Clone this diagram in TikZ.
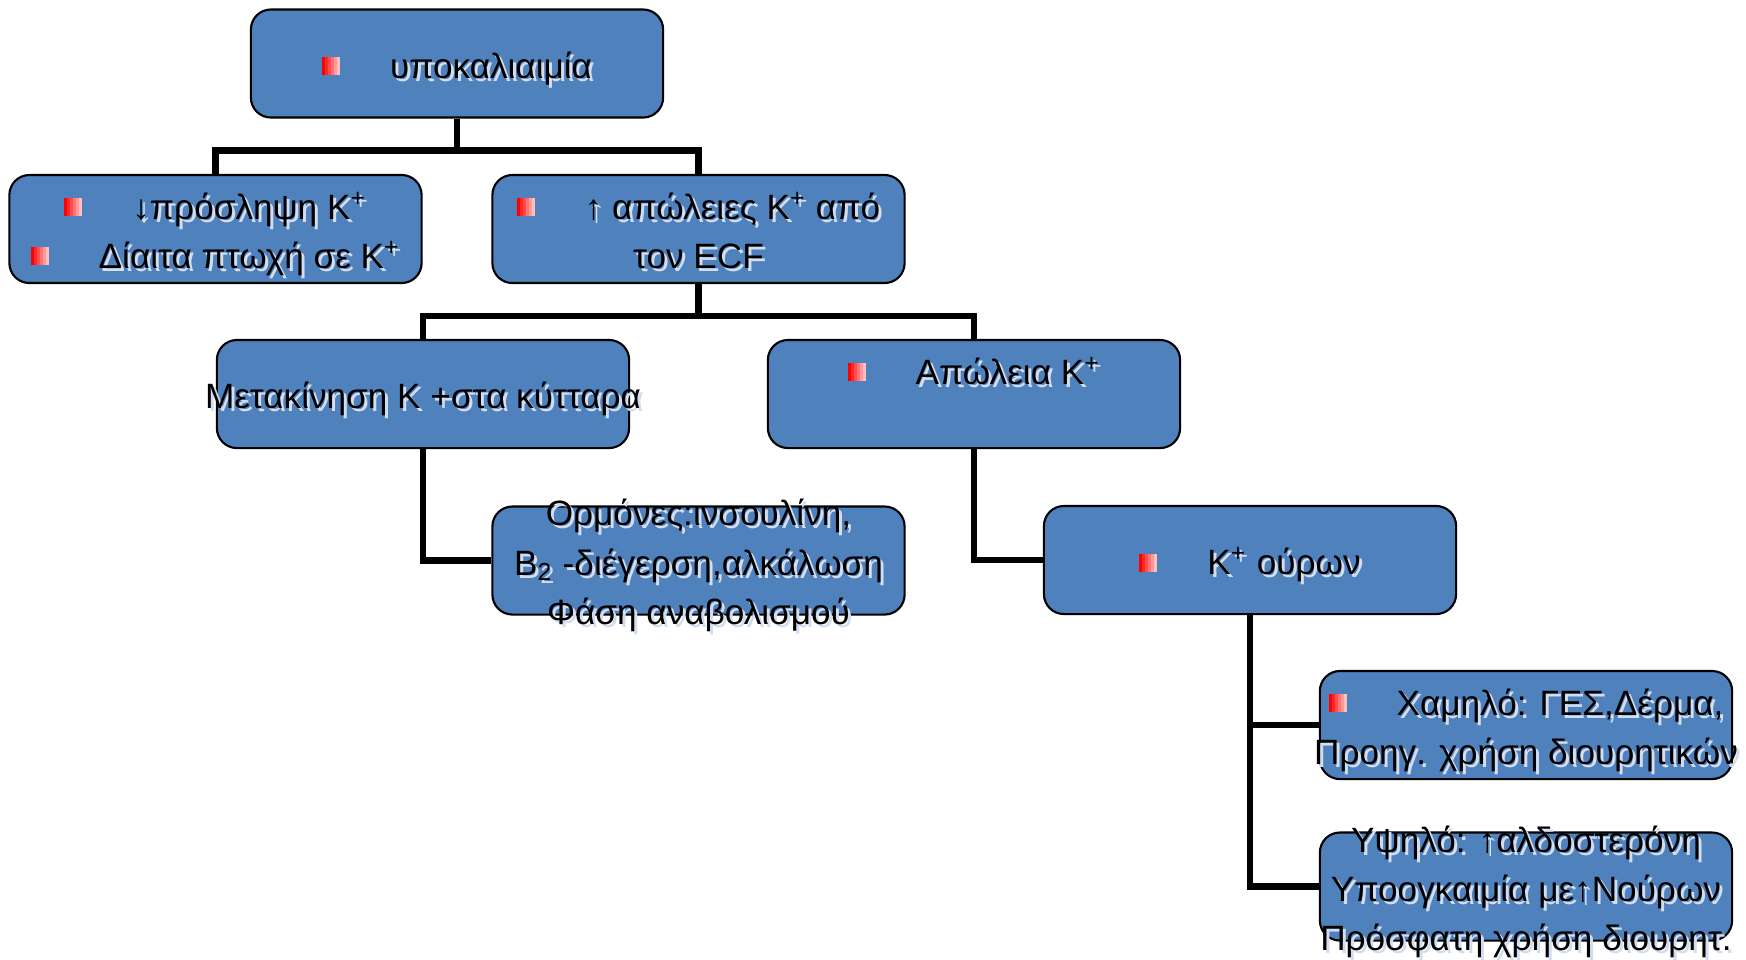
\documentclass[tikz,border=0pt]{standalone}
\usepackage{fontspec}
\setmainfont{Liberation Sans}
\usepackage{xcolor}
\usepackage{tikz}

\definecolor{boxblue}{RGB}{79,129,189}
\definecolor{shadowc}{RGB}{210,222,240}

%% small red square with a left-to-right fade, then the tab gap
\newcommand\bul{\raisebox{0.03cm}{%
  \textcolor{red!100}{\rule{0.03cm}{0.18cm}}%
  \textcolor{red!85}{\rule{0.03cm}{0.18cm}}%
  \textcolor{red!70}{\rule{0.03cm}{0.18cm}}%
  \textcolor{red!55}{\rule{0.03cm}{0.18cm}}%
  \textcolor{red!40}{\rule{0.03cm}{0.18cm}}%
  \textcolor{red!25}{\rule{0.03cm}{0.18cm}}}\hspace{0.5cm}}
%% text with a light shadow
\newcommand\sh[1]{\makebox[0pt][l]{\kern0.03cm\raisebox{-0.03cm}{\textcolor{shadowc}{#1}}}#1}
%% centred block of lines that does not change the box size
\newcommand\boxtxt[1]{\smash{\makebox[0pt]{\raisebox{-0.135cm}{\begin{tabular}{@{}c@{}}#1\end{tabular}}}}}

\begin{document}
\begin{tikzpicture}%
                [x=0.01cm,
                y=-0.01cm,
                box/.style={draw=black, line width=0.6pt, fill=boxblue, rounded corners=0.2cm,
                            minimum width=4.12cm, minimum height=1.08cm, inner sep=0pt,
                            font=\fontsize{10pt}{13.95pt}\selectfont},
                link/.style={color=black, line width=1.9pt}]

            \useasboundingbox (0,0) rectangle (1746,959);
            %%
            %% Drawing the boxes
            %%
            \node[box] (hypoK) at (457,63.5) {\boxtxt{\bul\sh{υποκαλιαιμία}}};
            \node[box] (intake) at (215.5,229) {\boxtxt{\bul\sh{↓πρόσληψη K\textsuperscript{+}}\\
                                                       \bul\sh{Δίαιτα πτωχή σε K\textsuperscript{+}}}};
            \node[box] (ecf) at (698.5,229) {\boxtxt{\bul\sh{↑ απώλειες K\textsuperscript{+} από}\\
                                                    \sh{τον ECF}}};
            \node[box] (shift) at (423,394) {\boxtxt{\sh{Μετακίνηση Κ +στα κύτταρα}}};
            \node[box] (kloss) at (974,394) {\boxtxt{\bul\sh{Απώλεια K\textsuperscript{+}}\\ \mbox{}}};
            \node[box] (hormones) at (698.5,560.5) {\boxtxt{\sh{Ορμόνες:ινσουλίνη,}\\
                                                           \sh{B\textsubscript{2} -διέγερση,αλκάλωση}\\
                                                           \sh{Φάση αναβολισμού}}};
            \node[box] (urine) at (1250,560) {\boxtxt{\bul\sh{K\textsuperscript{+} ούρων}}};
            \node[box] (low) at (1526,725) {\boxtxt{\bul\sh{Χαμηλό: ΓΕΣ,Δέρμα,}\\
                                                   \sh{Προηγ. χρήση διουρητικών}}};
            \node[box] (high) at (1526,886.5) {\boxtxt{\sh{Υψηλό: ↑αλδοστερόνη}\\
                                                      \sh{Υποογκαιμία με↑Νούρων}\\
                                                      \sh{Πρόσφατη χρήση διουρητ.}}};
            %%
            %% Drawing the connectors
            %%
            \draw[link] (hypoK.south) -- ++(0,32) coordinate (fork1);
            \draw[link] (intake.north) |- (fork1) -| (ecf.north);
            \draw[link] (ecf.south) -- ++(0,32) coordinate (fork2);
            \draw[link] (shift.north) |- (fork2) -| (kloss.north);
            \draw[link] (shift.south) |- (hormones.west);
            \draw[link] (kloss.south) |- (urine.west);
            \draw[link] (urine.south) |- (low.west);
            \draw[link] (urine.south) |- (high.west);
            %%
\end{tikzpicture}
\end{document}
